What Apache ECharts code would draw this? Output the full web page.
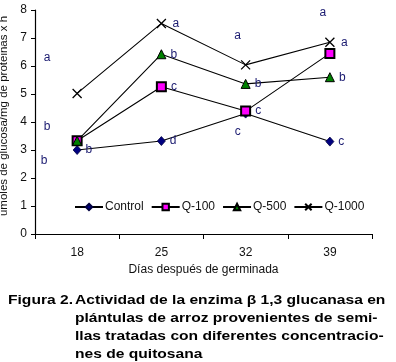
<!DOCTYPE html>
<html><head><meta charset="utf-8">
<script src="https://cdn.jsdelivr.net/npm/echarts@6/dist/echarts.min.js"></script>
<style>html,body{margin:0;padding:0;background:#fff}#c{width:396px;height:362px}</style>
</head><body><div id="c"></div>
<script>
const categories = ['18', '25', '32', '39'];
const controlValues = [3.0, 3.32, 4.3, 3.3];
const q100Values = [3.33, 5.26, 4.39, 6.45];
const q500Values = [3.33, 6.42, 5.36, 5.6];
const q1000Values = [5.02, 7.52, 6.04, 6.85];
const controlLetters = ['b', 'd', 'c', 'c'];
const q100Letters = ['b', 'c', 'c', 'a'];
const q500Letters = ['b', 'b', 'b', 'b'];
const q1000Letters = ['a', 'a', 'a', 'a'];
const yTicks = [0, 1, 2, 3, 4, 5, 6, 7, 8];

const FONT = 'Arial, "Liberation Sans", sans-serif';
const LETTER_COLOR = '#1a1a70';

function buildData(values, letters, overrides) {
  return values.map((v, i) => {
    const o = overrides[i];
    const label = o
      ? { show: true, formatter: letters[i], position: 'inside', offset: o }
      : { show: true, formatter: letters[i], position: 'right', distance: 4 };
    return { value: v, label: label };
  });
}

const xPath = 'path://M0,0L10,10M10,0L0,10';

const baseSeries = {
  type: 'line',
  lineStyle: { color: '#000', width: 1.1 },
  label: { color: LETTER_COLOR, fontFamily: FONT, fontSize: 12 },
  emphasis: { disabled: true },
  animation: false
};

const chart = echarts.init(document.getElementById('c'), null, { renderer: 'canvas' });
chart.setOption({
  animation: false,
  grid: { left: 35, right: 24, top: 10, bottom: 128, containLabel: false, outerBoundsMode: 'none' },
  legend: {
    left: 74, top: 201, padding: 0,
    itemWidth: 28, itemHeight: 8, itemGap: 7,
    textStyle: { fontFamily: FONT, fontSize: 12, color: '#111', padding: [0, 0, 0, -3] },
    data: ['Control', 'Q-100', 'Q-500', 'Q-1000']
  },
  xAxis: {
    type: 'category',
    data: categories,
    boundaryGap: true,
    name: 'Días después de germinada',
    nameLocation: 'middle',
    nameGap: 30,
    nameTextStyle: { fontFamily: FONT, fontSize: 12, color: '#111' },
    axisLine: { lineStyle: { color: '#000', width: 1.2 } },
    axisTick: { show: true, interval: 0, length: 5, lineStyle: { color: '#000' } },
    axisLabel: { fontFamily: FONT, fontSize: 12, color: '#111', margin: 13 },
    splitLine: { show: false }
  },
  yAxis: {
    type: 'value',
    min: yTicks[0], max: yTicks[yTicks.length - 1], interval: 1,
    name: 'umoles de glucosa/mg de proteinas x h',
    nameLocation: 'middle',
    nameGap: 19,
    nameTextStyle: { fontFamily: FONT, fontSize: 11.5, color: '#111', padding: [0, 0, 0, 12] },
    axisLine: { show: true, lineStyle: { color: '#000', width: 1.2 } },
    axisTick: { show: true, length: 4, lineStyle: { color: '#000' } },
    axisLabel: { fontFamily: FONT, fontSize: 12, color: '#111', margin: 8 },
    splitLine: { show: false }
  },
  series: [
    Object.assign({}, baseSeries, {
      name: 'Control',
      symbol: 'diamond', symbolSize: [8, 9],
      itemStyle: { color: '#000080', borderColor: '#000040', borderWidth: 0.8 },
      data: buildData(controlValues, controlLetters, { 2: [-8, 18] })
    }),
    Object.assign({}, baseSeries, {
      name: 'Q-100',
      symbol: 'rect', symbolSize: 9,
      itemStyle: { color: '#ff00ff', borderColor: '#000', borderWidth: 2 },
      data: buildData(q100Values, q100Letters, { 0: [-33, 20], 3: [-7, -41] })
    }),
    Object.assign({}, baseSeries, {
      name: 'Q-500',
      symbol: 'triangle', symbolSize: 9,
      itemStyle: { color: '#008000', borderColor: '#000', borderWidth: 1 },
      data: buildData(q500Values, q500Letters, { 0: [-30, -14] })
    }),
    Object.assign({}, baseSeries, {
      name: 'Q-1000',
      symbol: xPath, symbolSize: 9,
      itemStyle: { color: 'none', borderColor: '#000', borderWidth: 1.3 },
      data: buildData(q1000Values, q1000Letters, { 0: [-30, -36], 2: [-8, -29] })
    })
  ],
  graphic: [
    {
      type: 'text', x: 8, y: 291, scaleX: 1.2, originX: 0,
      style: { text: 'Figura 2.', font: 'bold 13px ' + FONT, fill: '#000', lineHeight: 18, textVerticalAlign: 'top' }
    },
    {
      type: 'text', x: 75, y: 291, scaleX: 1.2, originX: 0,
      style: {
        text: 'Actividad de la enzima β 1,3 glucanasa en\nplántulas de arroz provenientes de semi-\nllas tratadas con diferentes concentracio-\nnes de quitosana',
        font: 'bold 13px ' + FONT, fill: '#000', lineHeight: 18, textVerticalAlign: 'top'
      }
    }
  ]
});
</script>
</body></html>
